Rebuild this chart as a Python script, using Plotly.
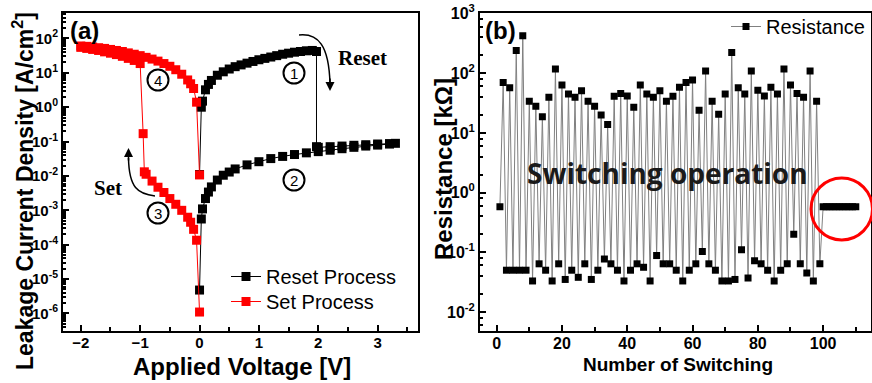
import plotly.graph_objects as go

# ---------------- data: panel (a) ----------------
reset_voltage = [0.0, 0.03, 0.05, 0.1, 0.15, 0.2, 0.3, 0.4, 0.5, 0.6, 0.7, 0.8, 0.9, 1.0,
                 1.1, 1.2, 1.3, 1.4, 1.5, 1.6, 1.7, 1.8, 1.9, 1.97,
                 1.97, 2.0, 2.2, 2.4, 2.6, 2.8, 3.0, 3.2, 3.3,
                 3.2, 3.0, 2.8, 2.6, 2.4, 2.2, 2.0, 1.8, 1.6, 1.4, 1.2, 1.0, 0.8, 0.6,
                 0.5, 0.4, 0.3, 0.2, 0.15, 0.1, 0.05, 0.03, 0.0]
reset_current = [1.1e-2, 1.0, 1.5, 3.2, 4.6, 6.0, 8.5, 10.7, 12.9, 15.1, 17.0, 19.1, 21.4, 24.0,
                 26.3, 28.8, 31.6, 34.7, 37.2, 39.8, 41.7, 43.7, 44.7, 41.7,
                 0.071, 0.068, 0.071, 0.074, 0.078, 0.081, 0.085, 0.087, 0.089,
                 0.085, 0.079, 0.074, 0.068, 0.062, 0.056, 0.051, 0.047, 0.042, 0.037, 0.032,
                 0.026, 0.021, 0.016,
                 0.013, 0.0105, 0.0076, 0.0048, 0.0034, 0.0022, 0.0011, 5.6e-4, 4.8e-6]

set_voltage = [0.0, -0.05, -0.1, -0.15, -0.2, -0.3, -0.4, -0.5, -0.6, -0.7, -0.8, -0.9, -0.93,
               -0.95, -1.0, -1.1, -1.2, -1.3, -1.4, -1.5, -1.6, -1.7, -1.8, -1.9, -2.0,
               -2.0, -1.9, -1.8, -1.7, -1.6, -1.5, -1.4, -1.3, -1.2, -1.1, -1.0, -0.9, -0.8,
               -0.7, -0.6, -0.5, -0.4, -0.3, -0.2, -0.15, -0.1, -0.05, 0.0]
set_current = [1.1e-6, 1.35e-4, 2.8e-4, 4.5e-4, 6.3e-4, 1.0e-3, 1.5e-3, 2.2e-3, 3.3e-3, 4.7e-3,
               7.1e-3, 1.12e-2, 1.32e-2,
               0.17, 18.6, 22.9, 26.3, 30.2, 33.9, 37.2, 40.7, 44.7, 47.9, 51.3, 55.0,
               60.3, 58.9, 56.2, 53.7, 51.3, 47.9, 44.7, 41.7, 38.0, 34.7, 31.6, 28.2, 25.1,
               21.9, 18.6, 15.5, 12.3, 9.1, 6.2, 4.8, 3.5, 1.4, 1.07e-2]

# ---------------- data: panel (b) ----------------
switch_number = list(range(1, 111))
resistance = [0.58, 70, 0.05, 57, 0.05, 240, 0.05, 425, 0.05, 34,
              0.033, 28, 0.064, 18.7, 0.05, 39.5, 0.033, 118, 0.064, 63.5,
              0.035, 45, 0.05, 39.5, 0.038, 51, 0.064, 34, 0.035, 28,
              0.05, 20, 0.077, 13.8, 0.064, 41, 0.05, 46, 0.033, 41.5,
              0.05, 27, 0.064, 63.5, 0.056, 45, 0.033, 39.5, 0.088, 51,
              0.064, 34, 0.064, 41, 0.05, 58, 0.033, 70, 0.05, 77,
              0.064, 24, 0.103, 109, 0.064, 34, 0.05, 20.6, 0.033, 45,
              0.033, 222, 0.035, 57, 0.11, 45, 0.037, 109, 0.072, 52,
              0.064, 41.5, 0.05, 58, 0.033, 45, 0.05, 118, 0.064, 63.5,
              0.2, 46, 0.064, 39.5, 0.045, 109, 0.033, 34, 0.064, 0.58,
              0.58, 0.58, 0.58, 0.58, 0.58, 0.58, 0.58, 0.58, 0.58, 0.58]

left_exps = [-6, -5, -4, -3, -2, -1, 0, 1, 2]
right_exps = [-2, -1, 0, 1, 2, 3]

# ---------------- layout helpers ----------------
W, H = 872, 383
ML, MR, MT, MB = 0, 0, 13, 52


def px(x):
    return (x - ML) / (W - ML - MR)


def py(y):
    return (H - MB - y) / (H - MT - MB)


SANS = "Liberation Sans"
SERIF = "Liberation Serif"

fig = go.Figure()
fig.add_trace(go.Scatter(
    x=reset_voltage, y=reset_current, mode="lines+markers", name="Reset Process",
    line=dict(color="black", width=1),
    marker=dict(symbol="square", size=9, color="black"),
    xaxis="x", yaxis="y", legend="legend"))
fig.add_trace(go.Scatter(
    x=set_voltage, y=set_current, mode="lines+markers", name="Set Process",
    line=dict(color="#ff0000", width=1),
    marker=dict(symbol="square", size=9, color="#ff0000"),
    xaxis="x", yaxis="y", legend="legend3"))
fig.add_trace(go.Scatter(
    x=switch_number, y=resistance, mode="lines+markers", name="Resistance",
    line=dict(color="#808080", width=1),
    marker=dict(symbol="square", size=7, color="black"),
    xaxis="x2", yaxis="y2", legend="legend2"))

tickf = dict(family=SANS, size=15, color="black", weight="bold")
axis_common = dict(showline=True, linecolor="black", linewidth=2, mirror=True,
                   ticks="inside", tickcolor="black", tickwidth=1.5, ticklen=6,
                   showgrid=False, zeroline=False, tickfont=tickf)

left_minor = [k * 10.0 ** e for e in range(-7, 3) for k in range(2, 10)]
right_minor = [k * 10.0 ** e for e in range(-3, 3) for k in (2, 4, 6, 8)]

legend_font = dict(family=SANS, size=20, color="black")

fig.update_layout(
    width=W, height=H,
    margin=dict(l=ML, r=MR, t=MT, b=MB),
    paper_bgcolor="white", plot_bgcolor="white",
    xaxis=dict(domain=[px(63), px(418)], range=[-2.30, 3.68],
               tickvals=[-2, -1, 0, 1, 2, 3], ticklabelstandoff=-3,
               minor=dict(ticks="inside", ticklen=4, tickcolor="black", dtick=0.5),
               anchor="y", **axis_common),
    yaxis=dict(domain=[0, 1], type="log", range=[-6.51, 2.74],
               tickvals=[10.0 ** e for e in left_exps],
               ticktext=["10<sup>%d</sup>" % e for e in left_exps],
               minor=dict(ticks="inside", ticklen=3, tickcolor="black", tickvals=left_minor),
               anchor="x", **axis_common),
    xaxis2=dict(domain=[px(480), 0.999], range=[-5.1, 114.7],
                tickvals=[0, 20, 40, 60, 80, 100], ticklabelstandoff=-3,
                minor=dict(ticks="inside", ticklen=4, tickcolor="black", dtick=10),
                anchor="y2", **{**axis_common, "tickfont": dict(tickf, size=16)}),
    yaxis2=dict(domain=[0, 1], type="log", range=[-2.32, 3.01],
                tickvals=[10.0 ** e for e in right_exps],
                ticktext=["10<sup>%d</sup>" % e for e in right_exps],
                minor=dict(ticks="inside", ticklen=3, tickcolor="black", tickvals=right_minor),
                anchor="x2", **{**axis_common, "tickfont": dict(tickf, size=16)}),
    legend=dict(x=px(226), xanchor="left", y=py(257), yanchor="top",
                bgcolor="rgba(0,0,0,0)", font=legend_font, itemwidth=30),
    legend3=dict(x=px(226), xanchor="left", y=py(282), yanchor="top",
                 bgcolor="rgba(0,0,0,0)", font=legend_font, itemwidth=30),
    legend2=dict(x=px(726), xanchor="left", y=py(7), yanchor="top",
                 bgcolor="rgba(0,0,0,0)", font=legend_font, itemwidth=30),
    showlegend=True,
)

ann = []


def text(x, y, s, size, family=SANS, bold=True, angle=0, color="black"):
    ann.append(dict(x=px(x), y=py(y), xref="paper", yref="paper", text=s,
                    showarrow=False, textangle=angle, xanchor="center", yanchor="middle",
                    font=dict(family=family, size=size, color=color,
                              weight="bold" if bold else "normal")))


text(84, 31, "(a)", 24)
text(500, 31, "(b)", 24)
text(23, 191, "Leakage Current Density [A/cm<sup>2</sup>]", 23, angle=-90)
text(242, 366, "Applied Voltage [V]", 24)
text(443, 169, "Resistance [kΩ]", 24, angle=-90)
text(678, 364, "Number of Switching", 19)
text(362, 58, "Reset", 21, family=SERIF)
text(108, 188, "Set", 21, family=SERIF)
text(667, 173, "Switching operation", 28, family="Open Sans", color="#1a1a1a")

shapes = []
for (cx, cy, lab) in [(294, 73, "1"), (294, 180, "2"), (158, 213, "3"), (158, 80, "4")]:
    shapes.append(dict(type="circle", xref="paper", yref="paper",
                       x0=px(cx - 10.5), x1=px(cx + 10.5), y0=py(cy + 10.5), y1=py(cy - 10.5),
                       line=dict(color="black", width=2)))
    text(cx, cy + 0.5, lab, 15, bold=False)


def path(points):
    (x0, y0), (x1, y1), (x2, y2), (x3, y3) = points
    return "M %f,%f C %f,%f %f,%f %f,%f" % (px(x0), py(y0), px(x1), py(y1),
                                            px(x2), py(y2), px(x3), py(y3))


shapes.append(dict(type="path", xref="paper", yref="paper",
                   path=path([(299, 35), (318, 33), (329, 45), (330, 84)]),
                   line=dict(color="black", width=1.5)))
shapes.append(dict(type="path", xref="paper", yref="paper",
                   path=path([(155, 196), (138, 194), (129, 188), (128.5, 158)]),
                   line=dict(color="black", width=1.5)))
ann.append(dict(x=px(330), y=py(91), xref="paper", yref="paper", ax=0, ay=-14,
                axref="pixel", ayref="pixel", text="", showarrow=True,
                arrowhead=2, arrowsize=1.2, arrowwidth=1.5, arrowcolor="black"))
ann.append(dict(x=px(128.5), y=py(148), xref="paper", yref="paper", ax=0, ay=14,
                axref="pixel", ayref="pixel", text="", showarrow=True,
                arrowhead=2, arrowsize=1.2, arrowwidth=1.5, arrowcolor="black"))

shapes.append(dict(type="circle", xref="paper", yref="paper",
                   x0=px(811), x1=px(872.5), y0=py(240), y1=py(178),
                   line=dict(color="#ff0000", width=3)))

fig.update_layout(annotations=ann, shapes=shapes)
fig.write_html("out.html")
